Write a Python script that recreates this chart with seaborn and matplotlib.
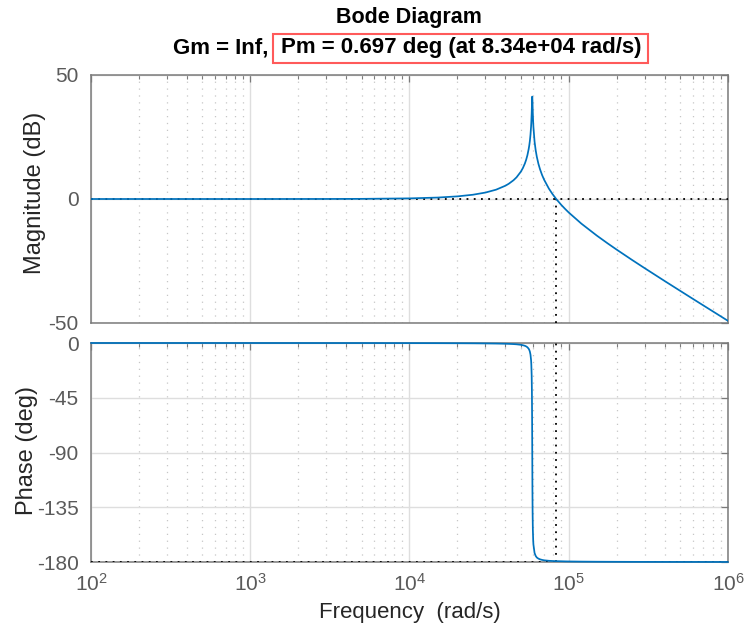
import numpy as np
import pandas as pd
import matplotlib
matplotlib.use("Agg")
import matplotlib.pyplot as plt
import matplotlib.patches as mpatches
from matplotlib.ticker import LogLocator, FixedLocator, NullFormatter
import seaborn as sns

# ---- data ----
freq_rad_s = [100, 1000, 3000, 5000, 10000, 15000, 20000, 25000, 30000, 35000,
              40000, 42000, 45000, 47000, 50000, 51500, 53000, 54000, 55000, 56000,
              56500, 57000, 57500, 58000, 58200, 58500, 58700, 58850, 59000, 59150,
              59300, 59500, 59800, 60000, 61000, 62000, 63000, 64500, 66000, 68000,
              70000, 75000, 79000, 83400, 90000, 95000, 100000, 120000, 150000, 175000,
              200000, 250000, 300000, 400000, 500000, 600000, 700000, 850000, 1000000]
magnitude_db = [0.0, 0.0, 0.02, 0.06, 0.25, 0.58, 1.06, 1.72, 2.60, 3.77,
                5.35, 6.14, 7.57, 8.74, 11.0, 12.46, 14.28, 15.79, 17.65, 20.08,
                21.58, 23.45, 25.87, 29.2, 30.98, 34.47, 37.54, 40.03, 41.3, 39.99,
                37.48, 34.38, 30.86, 29.05, 23.16, 19.64, 17.06, 14.19, 12.0, 9.67,
                7.80, 4.21, 2.02, 0.0, -2.46, -4.04, -5.45, -9.93, -14.75, -17.84,
                -20.42, -24.59, -27.91, -33.06, -37.0, -40.21, -42.91, -46.30, -49.14]
phase_deg = [0.0, -0.01, -0.03, -0.04, -0.09, -0.13, -0.19, -0.25, -0.34, -0.45,
             -0.62, -0.71, -0.90, -1.07, -1.48, -1.81, -2.29, -2.78, -3.50, -4.71,
             -5.67, -7.10, -9.48, -14.1, -17.5, -26.8, -40.2, -59.4, -90.0, -120.6,
             -139.7, -153.0, -162.3, -165.6, -172.6, -175.0, -176.3, -177.24, -177.8, -178.27,
             -178.6, -179.0, -179.17, -179.3, -179.4, -179.5, -179.55, -179.68, -179.77, -179.81,
             -179.84, -179.88, -179.9, -179.93, -179.94, -179.95, -179.96, -179.97, -179.97]
crossover_freq = 83400
mag_yticks = [-50, 0, 50]
phase_yticks = [-180, -135, -90, -45, 0]
title_line1 = "Bode Diagram"
title_gm = "Gm = Inf,"
title_pm = "Pm = 0.697 deg (at 8.34e+04 rad/s)"

df = pd.DataFrame({"freq": freq_rad_s, "mag": magnitude_db, "phase": phase_deg})

sns.set_theme(style="white")
plt.rcParams["font.family"] = ["Liberation Sans", "DejaVu Sans"]
plt.rcParams["mathtext.fontset"] = "custom"
plt.rcParams["mathtext.rm"] = "Liberation Sans"
plt.rcParams["mathtext.it"] = "Liberation Sans:italic"
plt.rcParams["mathtext.bf"] = "Liberation Sans:bold"
plt.rcParams["axes.unicode_minus"] = False

W, H = 747, 630
fig = plt.figure(figsize=(W / 100, H / 100), dpi=100)
fig.patch.set_facecolor("white")

def fx(px):
    return px / W

def fy(py):
    return 1 - py / H

left, right = 91, 728
ax1 = fig.add_axes([fx(left), fy(323), fx(right - left), (323 - 75) / H])
ax2 = fig.add_axes([fx(left), fy(562), fx(right - left), (562 - 343) / H])

line_color = "#0072BD"
spine_color = "#7a7a7a"
tick_label_color = "#5a5a5a"
label_color = "#262626"

sns.lineplot(data=df, x="freq", y="mag", ax=ax1, color=line_color, lw=1.25, zorder=5)
sns.lineplot(data=df, x="freq", y="phase", ax=ax2, color=line_color, lw=1.25, zorder=5,
             clip_on=False)

for ax in (ax1, ax2):
    ax.set_xscale("log")
    ax.set_xlim(1e2, 1e6)
    ax.xaxis.set_major_locator(LogLocator(base=10, numticks=10))
    ax.xaxis.set_minor_locator(LogLocator(base=10, subs=np.arange(2, 10), numticks=20))
    ax.xaxis.set_minor_formatter(NullFormatter())
    ax.grid(True, which="major", axis="both", color="#dedede", lw=1.0, ls="-", zorder=0)
    ax.grid(True, which="minor", axis="x", color="#c6c6c6", lw=0.9, ls=(0, (1, 4.5)), zorder=0)
    ax.set_axisbelow(True)
    ax.tick_params(axis="both", which="both", direction="in", top=True, right=True,
                   color=spine_color, labelcolor=tick_label_color, labelsize=15)
    ax.tick_params(which="major", length=5, width=0.9)
    ax.tick_params(which="minor", length=3, width=0.8)
    ax.tick_params(axis="y", which="major", pad=9)
    for s in ax.spines.values():
        s.set_color(spine_color)
        s.set_linewidth(1.1)
    ax.set_facecolor("white")

ax1.set_ylim(-50, 50)
ax1.yaxis.set_major_locator(FixedLocator(mag_yticks))
ax1.set_xticklabels([])
ax1.set_xlabel("")
ax1.set_ylabel("Magnitude (dB)", fontsize=17, color=label_color)
ax1.yaxis.set_label_coords(-0.070, 0.525)

ax2.set_ylim(-180, 0)
ax2.yaxis.set_major_locator(FixedLocator(phase_yticks))
ax2.set_xlabel("Frequency  (rad/s)", fontsize=16, color=label_color, labelpad=5)
ax2.set_ylabel("Phase (deg)", fontsize=17, color=label_color)
ax2.yaxis.set_label_coords(-0.083, 0.51)
ax2.tick_params(axis="x", which="major", pad=8)

# stability-margin markers (black dotted)
ax1.axhline(0, color="black", ls=(0, (1, 3)), lw=1.3, zorder=4)
ax1.vlines(crossover_freq, -50, 0, color="black", ls=(0, (1, 3)), lw=1.3, zorder=4)
ax2.axhline(-180, color="black", ls=(0, (1, 3)), lw=1.3, zorder=4)
ax2.vlines(crossover_freq, -180, 0, color="black", ls=(0, (1, 3)), lw=1.3, zorder=4)

# titles
fig.text(fx(409), fy(18), title_line1, ha="center", va="center", fontsize=15.5,
         fontweight="bold", color="black")
fig.text(fx(268), fy(48), title_gm, ha="right", va="center", fontsize=16,
         fontweight="bold", color="black")
fig.text(fx(461), fy(48), title_pm, ha="center", va="center", fontsize=16,
         fontweight="bold", color="black")
rect = mpatches.Rectangle((fx(273), fy(63)), fx(648 - 273), (63 - 34) / H,
                          transform=fig.transFigure, fill=False,
                          edgecolor="#ff5a5a", lw=1.5)
fig.patches.append(rect)

fig.savefig("out.png", dpi=100, facecolor="white")
